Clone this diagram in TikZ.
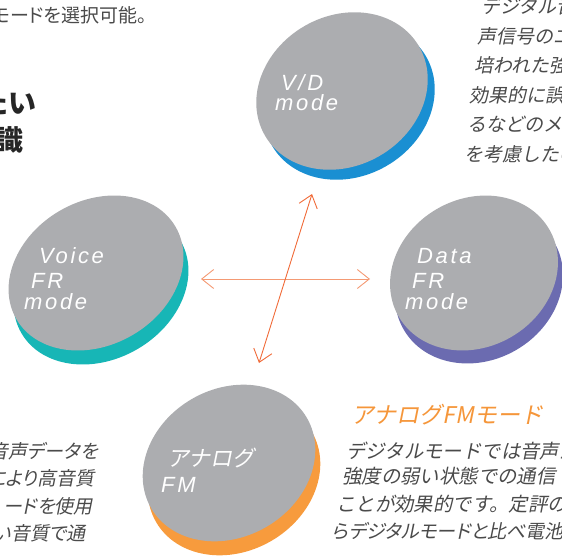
\documentclass[tikz,border=0pt]{standalone}
\usepackage{fontspec}
\usepackage{tikz}
\usetikzlibrary{arrows.meta,calc}

\newfontfamily\jpfont{Noto Sans CJK JP}[RawFeature=+palt]
\newfontfamily\jpslant{Noto Sans CJK JP}[FakeSlant=0.2,RawFeature=+palt]
\newfontfamily\jpslantfull{Noto Sans CJK JP}[FakeSlant=0.2]
\newfontfamily\disclat{Liberation Sans}[LetterSpace=12]

\definecolor{discgray}{HTML}{ACADB0}
\definecolor{vdblue}{HTML}{1A8FD2}
\definecolor{voiceteal}{HTML}{17B6B6}
\definecolor{datapurple}{HTML}{6B6BB0}
\definecolor{fmorange}{HTML}{F79B3D}
\definecolor{arrowor}{HTML}{F06A38}
\definecolor{arrowlt}{HTML}{F49A74}
\definecolor{bodygray}{HTML}{4A4A4A}
\definecolor{headorange}{HTML}{F5963A}

\tikzset{
  discface/.style={fill=discgray},
  disclabel/.style={text=white,font=\disclat\itshape\fontsize{22}{22}\selectfont,anchor=base west,inner sep=0pt},
  bodytext/.style={text=bodygray,font=\jpslant\fontsize{19}{19}\selectfont,anchor=west,inner sep=0pt},
  bodyfull/.style={bodytext,font=\jpslantfull\fontsize{19}{19}\selectfont},
  modearrow/.style={arrowor,line width=0.9pt,<->}
}

\begin{document}
\begin{tikzpicture}[x=1pt,y=1pt,>={Straight Barb[length=12pt,width=19pt]}]
\useasboundingbox (0,0) rectangle (562,555);
\clip (0,0) rectangle (562,555);

% Discs: coloured rim first, grey face on top
\foreach \nm/\px/\py/\rx/\ry/\dx/\dy/\rim in {vd/342/464/89/75/7/-10/vdblue,
    voice/96/282/92/72/5/-14/voiceteal, data/474/282/87/74/5/-13/datapurple,
    fm/229/92/90/74/5/-14/fmorange}{
  \fill[\rim,shift={(\px+\dx,\py+\dy)},rotate=30] (0,0) ellipse [x radius=\rx,y radius=\ry];
  \fill[discface,shift={(\px,\py)},rotate=30] (0,0) ellipse [x radius=\rx,y radius=\ry];
  \coordinate (\nm) at (\px,\py);
}

% Disc labels
\node[disclabel] (vdtop) at (281,464) {V/D};
\node[disclabel] (vdmode) at (275,444) {mode};
\node[disclabel] (voicetop) at (39,291) {Voice};
\node[disclabel] (voicefr) at (31,266) {FR};
\node[disclabel] (voicemode) at (24,246) {mode};
\node[disclabel] (datatop) at (417,291) {Data};
\node[disclabel] (datafr) at (412,266) {FR};
\node[disclabel] (datamode) at (405,246) {mode};
\node[text=white,font=\jpslantfull\fontsize{22}{22}\selectfont,anchor=west,inner sep=0pt] (fmtop) at (167,96.5) {アナログ};
\node[disclabel] (fmfm) at (161,63) {FM};

% Arrows between the modes
\coordinate (hl) at (201,276);
\coordinate (hr) at (370,276);
\coordinate (vb) at (259,192);
\coordinate (vt) at (312,361);
\draw[modearrow,arrowlt] (hl) -- (hr);
\draw[modearrow] (vb) -- (vt);

% Text around the diagram
\node[bodytext,font=\jpfont\fontsize{19}{19}\selectfont] (topleft) at (-8,540) {モードを選択可能。};
\node[text=black!85,font=\jpfont\bfseries\fontsize{28}{28}\selectfont,anchor=east,inner sep=0pt] (headA) at (36,452) {たい};
\node[text=black!85,font=\jpfont\bfseries\fontsize{28}{28}\selectfont,anchor=east,inner sep=0pt] (headB) at (24,415.5) {識};

\node[bodyfull] (trA) at (481,548.5) {デジタル音};
\node[bodyfull] (trB) at (477,519) {声信号のエ};
\node[bodyfull] (trC) at (474,489.5) {培われた強};
\node[bodyfull] (trD) at (469,460) {効果的に誤};
\node[bodyfull] (trE) at (467,430.5) {るなどのメ};
\node[bodyfull] (trF) at (464,401) {を考慮したの};

\node[bodytext,anchor=east] (blA) at (98,103.5) {音声データを};
\node[bodytext,anchor=east] (blB) at (95,76.5) {により高音質};
\node[bodytext,anchor=east] (blC) at (93,49) {ードを使用};
\node[bodytext,anchor=east] (blD) at (86,21.5) {い音質で通};

\node[bodytext,text=headorange,font=\jpslantfull\fontsize{23}{23}\selectfont] (fmhead) at (351,140) {アナログFMモード};
\node[bodyfull,font=\jpslantfull\fontsize{19.4}{19.4}\selectfont] (brA) at (346,103.5) {デジタルモードでは音声が};
\node[bodyfull,font=\jpslantfull\fontsize{19.4}{19.4}\selectfont] (brB) at (342,78.5) {強度の弱い状態での通信};
\node[bodyfull,font=\jpslantfull\fontsize{19.4}{19.4}\selectfont] (brC) at (336,50.5) {ことが効果的です。定評の};
\node[bodytext] (brD) at (332,23.5) {らデジタルモードと比べ電池};
\end{tikzpicture}
\end{document}
